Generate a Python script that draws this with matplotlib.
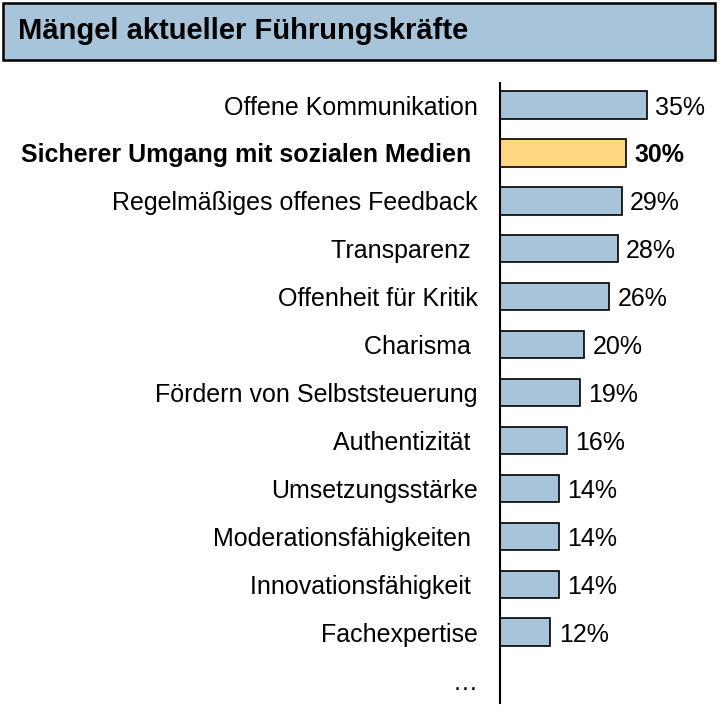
import matplotlib
matplotlib.use("Agg")
import matplotlib.pyplot as plt
from matplotlib.patches import Rectangle

plt.rcParams['font.family'] = ['Liberation Sans', 'DejaVu Sans']

title = "Mängel aktueller Führungskräfte"
categories = ["Offene Kommunikation", "Sicherer Umgang mit sozialen Medien ",
              "Regelmäßiges offenes Feedback", "Transparenz ", "Offenheit für Kritik",
              "Charisma ", "Fördern von Selbststeuerung", "Authentizität ",
              "Umsetzungsstärke", "Moderationsfähigkeiten ", "Innovationsfähigkeit ",
              "Fachexpertise", "…"]
values = [35, 30, 29, 28, 26, 20, 19, 16, 14, 14, 14, 12, None]
highlight = 1

W, H = 721, 719
fig = plt.figure(figsize=(W/100, H/100), dpi=100)

# title box
fig.patches.append(Rectangle((3/W, 1-60/H), 712/W, 57/H, transform=fig.transFigure,
                             facecolor="#a8c4da", edgecolor="black", linewidth=1.8))
fig.text(18/W, 1-31/H, title, fontsize=21, fontweight='bold', va='center', ha='left')

ax = fig.add_axes([500/W, 1-703/H, (W-500)/W, 620/H])
n = len(categories)
for i, (c, v) in enumerate(zip(categories, values)):
    if v is None:
        continue
    col = "#ffd780" if i == highlight else "#a8c4da"
    ax.barh(i, v, height=0.57, color=col, edgecolor="black", linewidth=1.2)
    ax.annotate(f"{v}%", xy=(v, i), xytext=(6, 0), textcoords='offset points',
                va='center_baseline', ha='left', fontsize=18,
                fontweight='bold' if i == highlight else 'normal')

ax.set_xlim(0, 52.6)
ax.set_ylim(12.48, -0.46)
ax.set_yticks(range(n))
ax.set_yticklabels(categories, fontsize=18)
for i, t in enumerate(ax.get_yticklabels()):
    if i == highlight:
        t.set_fontweight('bold')
ax.tick_params(axis='y', length=0, pad=16)
ax.set_xticks([])
for s in ['top', 'right', 'bottom']:
    ax.spines[s].set_visible(False)
ax.spines['left'].set_linewidth(1.5)
ax.patch.set_alpha(0)

fig.savefig("out.png", dpi=100)
